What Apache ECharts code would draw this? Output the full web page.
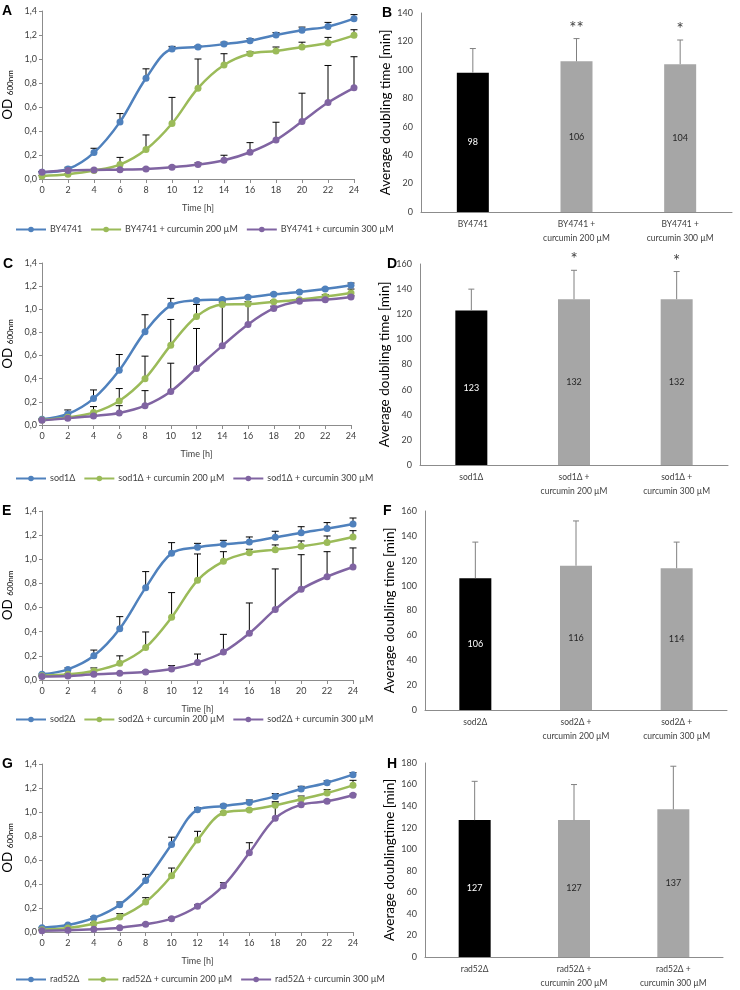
<!DOCTYPE html>
<html><head><meta charset="utf-8">
<script src="https://cdn.jsdelivr.net/npm/echarts@6/dist/echarts.min.js"></script>
<style>html,body{margin:0;padding:0;background:#fff}#c{width:740px;height:990px}</style>
</head><body><div id="c"></div>
<script>
// ---------- data ----------
const times = [0,2,4,6,8,10,12,14,16,18,20,22,24];
const yTicksOD = [0,0.2,0.4,0.6,0.8,1.0,1.2,1.4];

// Panel A (BY4741)
const A_names = ['BY4741','BY4741 + curcumin 200 µM','BY4741 + curcumin 300 µM'];
const A_ctrl = [0.056,0.083,0.22,0.476,0.84,1.083,1.10,1.124,1.152,1.20,1.24,1.27,1.336];
const A_ctrlErr = [0.005,0.015,0.036,0.069,0.078,0.022,0.01,0.016,0.018,0.02,0.026,0.035,0.034];
const A_c200 = [0.025,0.04,0.07,0.12,0.245,0.462,0.757,0.95,1.044,1.066,1.10,1.133,1.197];
const A_c200Err = [0.005,0.005,0.01,0.06,0.122,0.218,0.243,0.094,0.016,0.034,0.04,0.047,0.047];
const A_c300 = [0.056,0.07,0.075,0.078,0.083,0.097,0.12,0.156,0.223,0.326,0.479,0.637,0.76];
const A_c300Err = [0.005,0.005,0.005,0.005,0.008,0.01,0.015,0.042,0.08,0.147,0.236,0.309,0.259];

// Panel C (sod1Δ)
const C_names = ['sod1Δ','sod1Δ + curcumin 200 µM','sod1Δ + curcumin 300 µM'];
const C_ctrl = [0.049,0.095,0.228,0.473,0.805,1.034,1.077,1.085,1.103,1.129,1.149,1.175,1.207];
const C_ctrlErr = [0.005,0.035,0.075,0.136,0.148,0.06,0.01,0.01,0.01,0.01,0.01,0.01,0.02];
const C_c200 = [0.043,0.066,0.107,0.208,0.40,0.69,0.938,1.042,1.045,1.065,1.083,1.111,1.14];
const C_c200Err = [0.005,0.01,0.052,0.107,0.195,0.222,0.104,0.02,0.02,0.01,0.01,0.015,0.035];
const C_c300 = [0.04,0.058,0.078,0.104,0.167,0.29,0.488,0.684,0.869,1.007,1.07,1.083,1.106];
const C_c300Err = [0.005,0.005,0.01,0.063,0.13,0.244,0.346,0.39,0.18,0.02,0.01,0.01,0.01];

// Panel E (sod2Δ)
const E_names = ['sod2Δ','sod2Δ + curcumin 200 µM','sod2Δ + curcumin 300 µM'];
const E_ctrl = [0.047,0.088,0.20,0.425,0.765,1.05,1.10,1.124,1.143,1.182,1.22,1.254,1.292];
const E_ctrlErr = [0.003,0.012,0.048,0.10,0.133,0.088,0.032,0.033,0.042,0.05,0.05,0.05,0.05];
const E_c200 = [0.036,0.047,0.075,0.138,0.27,0.519,0.826,0.983,1.055,1.08,1.107,1.14,1.185];
const E_c200Err = [0.003,0.005,0.025,0.062,0.128,0.205,0.218,0.08,0.028,0.039,0.045,0.053,0.052];
const E_c300 = [0.028,0.033,0.047,0.055,0.066,0.091,0.144,0.232,0.387,0.585,0.751,0.856,0.936];
const E_c300Err = [0.003,0.003,0.005,0.005,0.01,0.028,0.071,0.146,0.251,0.335,0.287,0.207,0.158];

// Panel G (rad52Δ)
const G_names = ['rad52Δ','rad52Δ + curcumin 200 µM','rad52Δ + curcumin 300 µM'];
const G_ctrl = [0.036,0.058,0.117,0.228,0.43,0.73,1.019,1.05,1.08,1.13,1.192,1.244,1.311];
const G_ctrlErr = [0.003,0.005,0.01,0.022,0.05,0.06,0.017,0.014,0.02,0.023,0.022,0.016,0.017];
const G_c200 = [0.019,0.033,0.069,0.125,0.25,0.469,0.767,0.994,1.017,1.056,1.106,1.158,1.222];
const G_c200Err = [0.003,0.005,0.01,0.028,0.036,0.064,0.072,0.01,0.01,0.03,0.027,0.028,0.042];
const G_c300 = [0.011,0.014,0.022,0.036,0.064,0.111,0.214,0.386,0.661,0.947,1.061,1.089,1.139];
const G_c300Err = [0.003,0.003,0.003,0.005,0.008,0.01,0.012,0.025,0.083,0.128,0.01,0.01,0.01];

// Bar panels
const B_cats = ['BY4741','BY4741 +\ncurcumin 200 µM','BY4741 +\ncurcumin 300 µM'];
const B_vals = [98,106,104]; const B_err = [17,16,17]; const B_stars = ['','**','*'];
const D_cats = ['sod1Δ','sod1Δ +\ncurcumin 200 µM','sod1Δ +\ncurcumin 300 µM'];
const D_vals = [123,132,132]; const D_err = [17,23,22]; const D_stars = ['','*','*'];
const F_cats = ['sod2Δ','sod2Δ +\ncurcumin 200 µM','sod2Δ +\ncurcumin 300 µM'];
const F_vals = [106,116,114]; const F_err = [29,36,21]; const F_stars = ['','',''];
const H_cats = ['rad52Δ','rad52Δ +\ncurcumin 200 µM','rad52Δ +\ncurcumin 300 µM'];
const H_vals = [127,127,137]; const H_err = [36,33,40]; const H_stars = ['','',''];

// ---------- styling / layout ----------
const FONT = 'Lato, "Open Sans", sans-serif';
const colors = ['#4f81bd','#9bbb59','#8064a2'];
const axisCol = '#8c8c8c';
const txtCol = '#404040';

const lineGrids = [
  {left:41, top:11, width:313, height:168},
  {left:41, top:263, width:310, height:162},
  {left:41, top:511, width:312, height:169},
  {left:41, top:764, width:312, height:168}
];
const barGrids = [
  {left:421, top:13, width:311, height:199},
  {left:420, top:264, width:308, height:201},
  {left:425, top:511, width:302, height:199},
  {left:425, top:763, width:298, height:198}
];
const legendTops = [220, 469, 710, 970];

const linePanels = [
  {names:A_names, s:[[A_ctrl,A_ctrlErr],[A_c200,A_c200Err],[A_c300,A_c300Err]]},
  {names:C_names, s:[[C_ctrl,C_ctrlErr],[C_c200,C_c200Err],[C_c300,C_c300Err]]},
  {names:E_names, s:[[E_ctrl,E_ctrlErr],[E_c200,E_c200Err],[E_c300,E_c300Err]]},
  {names:G_names, s:[[G_ctrl,G_ctrlErr],[G_c200,G_c200Err],[G_c300,G_c300Err]]}
];
const barPanels = [
  {cats:B_cats, vals:B_vals, err:B_err, stars:B_stars, max:140, yname:'Average doubling time [min]'},
  {cats:D_cats, vals:D_vals, err:D_err, stars:D_stars, max:160, yname:'Average doubling time [min]'},
  {cats:F_cats, vals:F_vals, err:F_err, stars:F_stars, max:160, yname:'Average doubling time [min]'},
  {cats:H_cats, vals:H_vals, err:H_err, stars:H_stars, max:180, yname:'Average doublingtime [min]'}
];

const grid = [], xAxis = [], yAxis = [], series = [], legend = [];
const fmt = v => v.toFixed(1).replace('.', ',');

linePanels.forEach((p, k) => {
  const gi = grid.length;
  grid.push(lineGrids[k]);
  xAxis.push({gridIndex:gi, type:'value', min:0, max:24, interval:2,
    name:'Time [h]', nameLocation:'middle', nameGap:25,
    nameTextStyle:{fontFamily:FONT, fontSize:9, color:txtCol},
    axisLine:{lineStyle:{color:axisCol}}, axisTick:{show:true, length:4, lineStyle:{color:axisCol}},
    splitLine:{show:false},
    axisLabel:{fontFamily:FONT, fontSize:9, color:txtCol, margin:7}});
  yAxis.push({gridIndex:gi, type:'value', min:0, max:1.4, interval:0.2,
    name:'OD {s|600nm}', nameLocation:'middle', nameGap:27, nameRotate:90,
    nameTextStyle:{fontFamily:FONT, fontSize:13.5, color:'#000', rich:{s:{fontFamily:FONT, fontSize:8, color:'#000', padding:[4,0,0,0]}}},
    axisLine:{show:true, lineStyle:{color:axisCol}}, axisTick:{show:true, length:3, lineStyle:{color:axisCol}},
    splitLine:{show:false},
    axisLabel:{fontFamily:FONT, fontSize:9, color:txtCol, formatter:fmt, margin:5}});
  p.s.forEach((pair, j) => {
    const [m, e] = pair;
    series.push({type:'custom', xAxisIndex:gi, yAxisIndex:gi, z:1, silent:true,
      data: times.map((t,i)=>[t, m[i], m[i]+e[i]]),
      renderItem(params, api){
        const p0 = api.coord([api.value(0), api.value(1)]);
        const p1 = api.coord([api.value(0), api.value(2)]);
        const st = {stroke:'#000', lineWidth:1};
        return {type:'group', children:[
          {type:'line', shape:{x1:p0[0],y1:p0[1],x2:p1[0],y2:p1[1]}, style:st},
          {type:'line', shape:{x1:p1[0]-3.5,y1:p1[1],x2:p1[0]+3.5,y2:p1[1]}, style:st}
        ]};
      }});
    series.push({type:'line', name:p.names[j], xAxisIndex:gi, yAxisIndex:gi, z:3,
      data: times.map((t,i)=>[t, m[i]]), smooth:0.35, symbol:'circle', symbolSize:7,
      lineStyle:{color:colors[j], width:2.5}, itemStyle:{color:colors[j]}});
  });
  legend.push({data:p.names, top:legendTops[k], left:10, itemWidth:30, itemHeight:7, itemGap:8,
    textStyle:{fontFamily:FONT, fontSize:9, color:txtCol, padding:[0,0,0,-1]}});
});

barPanels.forEach((p, k) => {
  const gi = grid.length;
  grid.push(barGrids[k]);
  xAxis.push({gridIndex:gi, type:'category', data:p.cats,
    axisLine:{lineStyle:{color:axisCol}}, axisTick:{show:false},
    axisLabel:{fontFamily:FONT, fontSize:8.5, color:txtCol, lineHeight:14, margin:5, interval:0}});
  yAxis.push({gridIndex:gi, type:'value', min:0, max:p.max, interval:20,
    name:p.yname, nameLocation:'middle', nameGap:28, nameRotate:90,
    nameTextStyle:{fontFamily:FONT, fontSize:13.5, color:'#000'},
    axisLine:{show:true, lineStyle:{color:axisCol}}, axisTick:{show:false},
    splitLine:{show:false},
    axisLabel:{fontFamily:FONT, fontSize:9, color:txtCol, margin:8}});
  series.push({type:'bar', xAxisIndex:gi, yAxisIndex:gi, barWidth:32, z:2,
    data: p.vals.map((v,i)=>({value:v,
      itemStyle:{color: i===0 ? '#000000' : '#a6a6a6'},
      label:{show:true, position:'inside', fontFamily:FONT, fontSize:9, color: i===0 ? '#ffffff' : '#262626'}}))});
  series.push({type:'custom', xAxisIndex:gi, yAxisIndex:gi, z:3, silent:true,
    data: p.vals.map((v,i)=>[i, v, v+p.err[i], p.stars[i]]),
    renderItem(params, api){
      const idx = params.dataIndex;
      const p0 = api.coord([api.value(0), api.value(1)]);
      const p1 = api.coord([api.value(0), api.value(2)]);
      const st = {stroke:'#808080', lineWidth:1};
      const ch = [
        {type:'line', shape:{x1:p0[0],y1:p0[1],x2:p1[0],y2:p1[1]}, style:st},
        {type:'line', shape:{x1:p1[0]-3,y1:p1[1],x2:p1[0]+3,y2:p1[1]}, style:st}
      ];
      const star = p.stars[idx];
      if (star) ch.push({type:'text', x:p1[0], y:p1[1]-2,
        style:{text:star, fontFamily:FONT, fontSize:17, fill:'#404040', align:'center', verticalAlign:'bottom'}});
      return {type:'group', children:ch};
    }});
});

const letters = [['A',2,4],['B',382,6],['C',3,257],['D',387,257],['E',2,504],['F',383,504],['G',2,757],['H',387,757]];
const graphic = letters.map(([t,x,y]) => ({type:'text', left:x, top:y,
  style:{text:t, fontFamily:'"Liberation Sans", Arial, sans-serif', fontWeight:'bold', fontSize:14, fill:'#000'}}));

const chart = echarts.init(document.getElementById('c'));
chart.setOption({animation:false, backgroundColor:'#fff', grid, xAxis, yAxis, series, legend, graphic});
</script></body></html>
